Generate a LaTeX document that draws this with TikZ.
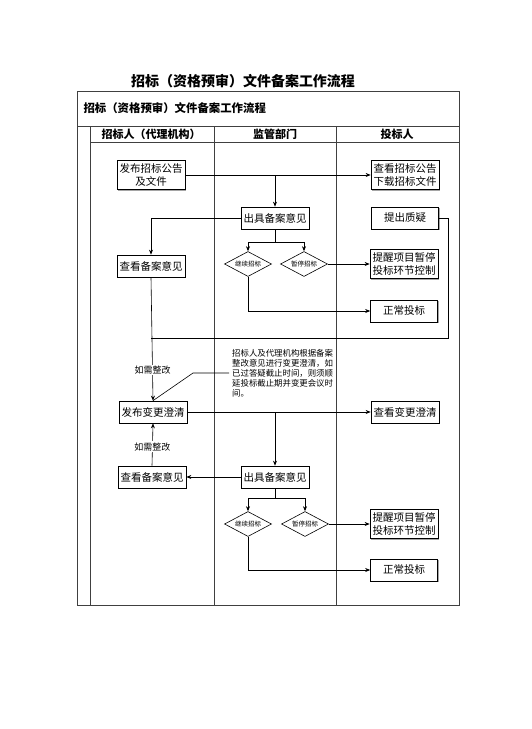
\documentclass[tikz,border=0pt]{standalone}
\usepackage{fontspec}
\setmainfont{Noto Sans CJK SC}
\usetikzlibrary{arrows.meta, positioning, shapes.geometric, shadows}

\begin{document}
\begin{tikzpicture}[
    x=1pt, y=-1pt,
    box/.style={
        rectangle, draw, line width=0.7pt, fill=white,
        inner xsep=2.5pt, inner ysep=3pt, minimum height=22pt, minimum width=67pt,
        align=center, font=\fontsize{10.5}{13}\selectfont,
        drop shadow={shadow xshift=1.2pt, shadow yshift=-1.2pt, fill=black!70}
    },
    choice/.style={
        diamond, draw, line width=0.6pt, fill=white, aspect=1.9,
        minimum width=47pt, minimum height=25pt, inner sep=0pt,
        font=\fontsize{6.5}{8}\selectfont
    },
    lane/.style={draw=black!75, line width=0.8pt},
    head/.style={font=\bfseries\fontsize{11}{13}\selectfont},
    hint/.style={fill=white, inner sep=1pt, font=\fontsize{9}{11}\selectfont},
    note/.style={align=left, inner sep=3pt, font=\fontsize{8.4}{10}\selectfont},
    link/.style={line width=0.6pt},
    arrow/.style={-{Stealth[length=5pt, width=4pt]}, line width=0.6pt}
]
\useasboundingbox[fill=white] (0,0) rectangle (531,729);

% Table frame
\draw[lane] (77,91) rectangle (459,605);
\draw[lane] (77,126) -- (459,126);
\draw[lane] (90,142) -- (459,142);
\draw[lane] (90,126) -- (90,605);
\draw[lane] (214,126) -- (214,605);
\draw[lane] (336,126) -- (336,605);

% Titles
\node[font=\bfseries\fontsize{14}{16}\selectfont] (title) at (243,81) {招标（资格预审）文件备案工作流程};
\node[head, anchor=west, font=\bfseries\fontsize{11.4}{13}\selectfont] (tabtitle) at (80,108) {招标（资格预审）文件备案工作流程};
\node[head] (hagent) at (151,134) {招标人（代理机构）};
\node[head] (hsuper) at (275,134) {监管部门};
\node[head] (hbidder) at (397,134) {投标人};

% First round
\node[box] (pub) at (151,175) {发布招标公告\\及文件};
\node[box] (viewnotice) at (405,175) {查看招标公告\\下载招标文件};
\node[box] (opinion1) at (275,218) {出具备案意见};
\node[box] (query) at (405,218) {提出质疑};
\node[box] (check1) at (151,266) {查看备案意见};
\node[choice] (cont1) at (248,264) {继续招标};
\node[choice] (pause1) at (304,264) {暂停招标};
\node[box] (remind1) at (404,264) {提醒项目暂停\\投标环节控制};
\node[box] (normal1) at (404,311) {正常投标};

% Second round
\node[box] (change) at (153,412) {发布变更澄清};
\node[box] (viewchange) at (405,412) {查看变更澄清};
\node[note, anchor=west] (remark) at (229,373) {招标人及代理机构根据备案\\整改意见进行变更澄清，如\\已过答疑截止时间，则须顺\\延投标截止期并变更会议时\\间。};
\node[box] (check2) at (152,477) {查看备案意见};
\node[box] (opinion2) at (275,477) {出具备案意见};
\node[choice] (cont2) at (248,524) {继续招标};
\node[choice] (pause2) at (305,524) {暂停招标};
\node[box] (remind2) at (404,524) {提醒项目暂停\\投标环节控制};
\node[box] (normal2) at (404,570) {正常投标};

\coordinate (split1) at (275,242);
\coordinate (split2) at (275,498);
\coordinate (back) at (448,338);
\coordinate (bend) at (193,373);

% Arrows, first round
\draw[arrow] (pub.east) -- (viewnotice.west |- pub.east);
\draw[arrow] (pub.east -| opinion1) -- (opinion1.north);
\draw[arrow] (opinion1.west) -| (check1.north);
\draw[link] (opinion1.south) -- (split1);
\draw[arrow] (split1) -| (cont1.north);
\draw[arrow] (split1) -| (pause1.north);
\draw[arrow] (pause1.east) -- (remind1.west);
\draw[arrow] (cont1.south) |- (normal1.west);
\draw[link] (query.east) -| (back) -- (back -| check1);

% Arrows, second round
\draw[arrow] (check1.south) -- node[hint, pos=0.75] (fix1) {如需整改} (change.north);
\draw[link] (remark.west) -- (bend) -- (change.north);
\draw[arrow] (change.east) -- (viewchange.west);
\draw[arrow] (change.east -| opinion2) -- (opinion2.north);
\draw[arrow] (opinion2.west) -- (check2.east);
\draw[arrow] (check2.north) -- node[hint, pos=0.45] (fix2) {如需整改} (change.south);
\draw[link] (opinion2.south) -- (split2);
\draw[arrow] (split2) -| (cont2.north);
\draw[arrow] (split2) -| (pause2.north);
\draw[arrow] (pause2.east) -- (remind2.west);
\draw[arrow] (cont2.south) |- (normal2.west);

\end{tikzpicture}
\end{document}
